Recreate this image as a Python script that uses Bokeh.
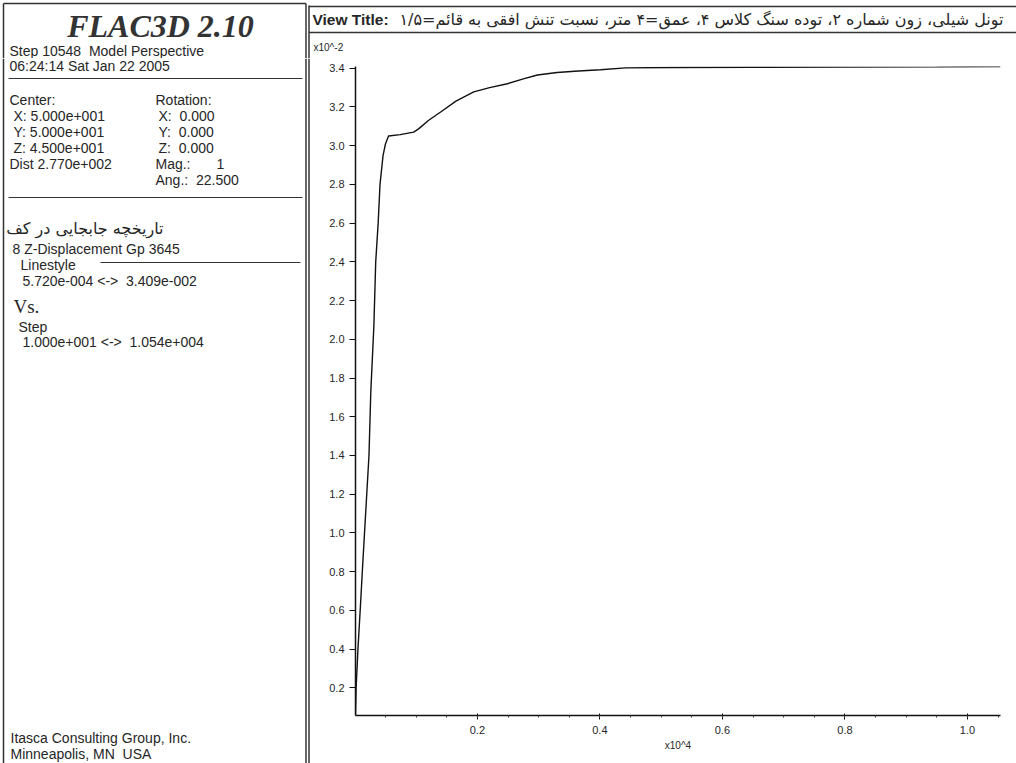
from bokeh.plotting import figure
from bokeh.layouts import row, column
from bokeh.models import FixedTicker, NumeralTickFormatter, Range1d
from bokeh.core.properties import value
from bokeh.embed import file_html
from bokeh.resources import INLINE

# ---- data (Step in units of 10^4, Z-displacement in units of 10^-2) ----
step_e4 = [0.001, 0.002, 0.005, 0.009, 0.013, 0.017, 0.023, 0.026, 0.031, 0.034,
           0.038, 0.041, 0.046, 0.050, 0.055, 0.074, 0.096, 0.104, 0.120, 0.140,
           0.165, 0.194, 0.220, 0.249, 0.275, 0.298, 0.330, 0.365, 0.401, 0.442,
           0.520, 0.650, 0.800, 0.950, 1.054]
zdisp_e2 = [0.057, 0.20, 0.40, 0.62, 0.85, 1.07, 1.40, 1.73, 2.07, 2.40,
            2.60, 2.80, 2.95, 3.01, 3.05, 3.057, 3.07, 3.087, 3.13, 3.174,
            3.23, 3.278, 3.30, 3.32, 3.345, 3.365, 3.378, 3.386, 3.392, 3.402,
            3.404, 3.405, 3.406, 3.407, 3.409]
x_ticks = [0.2, 0.4, 0.6, 0.8, 1.0]
y_ticks = [0.2, 0.4, 0.6, 0.8, 1.0, 1.2, 1.4, 1.6, 1.8, 2.0, 2.2, 2.4, 2.6, 2.8, 3.0, 3.2, 3.4]
x_limits = [0.001, 1.054]
y_limits = [0.0572, 3.409]

view_title = "تونل شیلی، زون شماره ۲، توده سنگ کلاس ۴، عمق=۴ متر، نسبت تنش افقی به قائم=۱/۵"
history_title = "تاریخچه جابجایی در کف"

NB = "\u00a0"
SANS = value("Liberation Sans")
TXT = "#262626"
LINE = "#333333"
STRIP_H = 58


def canvas(width, height, y0, y1, x0=0):
    f = figure(width=width, height=height, x_range=Range1d(x0, x0 + width),
               y_range=Range1d(y1, y0), x_axis_type=None, y_axis_type=None,
               min_border=0, output_backend="svg", toolbar_location=None)
    f.grid.visible = False
    f.outline_line_color = None
    return f


# ---------------- top strip (full width) ----------------
st = canvas(1016, STRIP_H, 0, STRIP_H)
st.segment(x0=[3, 3, 305.5, 308.5, 308.5, 308.5], y0=[3, 3, 3, 5, 6, 32],
           x1=[3, 305.5, 305.5, 308.5, 1016, 1016], y1=[STRIP_H, 3, STRIP_H, STRIP_H, 6, 32],
           line_color=LINE, line_width=1.5)
st.text(x=[160], y=[25], text=["FLAC3D 2.10"], text_font=value("Liberation Serif"),
        text_font_style="bold italic", text_font_size="32px", text_align="center",
        text_baseline="middle", text_color="#333333")
st.text(x=[9], y=[50], text=["Step 10548" + NB + NB + "Model Perspective"], text_font=SANS,
        text_font_size="14px", text_baseline="middle", text_color=TXT)
st.text(x=[312], y=[19], text=["View Title:"], text_font=SANS, text_font_style="bold",
        text_font_size="15.5px", text_baseline="middle", text_color=TXT)
st.text(x=[1003], y=[19], text=[view_title], text_font=value("DejaVu Sans"),
        text_font_size="16px", text_align="right", text_baseline="middle", text_color=TXT)
st.text(x=[313], y=[47], text=["x10^-2"], text_font=SANS, text_font_size="10px",
        text_baseline="middle", text_color=TXT)

# ---------------- left info panel body ----------------
lf = canvas(310, 763 - STRIP_H, STRIP_H, 763)
lf.segment(x0=[3, 305.5, 308.5, 8, 8, 100], y0=[STRIP_H, STRIP_H, STRIP_H, 78, 197, 262],
           x1=[3, 305.5, 308.5, 302, 302, 300], y1=[763, 763, 763, 78, 197, 262],
           line_color=LINE, line_width=[1.5, 1.5, 1.5, 1, 1, 1])

lines_left = [
    ("06:24:14 Sat Jan 22 2005", 9, 65),
    ("Center:", 9, 99), ("Rotation:", 155, 99),
    ("X: 5.000e+001", 13, 115), ("X:" + NB + NB + "0.000", 158, 115),
    ("Y: 5.000e+001", 13, 131), ("Y:" + NB + NB + "0.000", 158, 131),
    ("Z: 4.500e+001", 13, 147), ("Z:" + NB + NB + "0.000", 158, 147),
    ("Dist 2.770e+002", 9, 163), ("Mag.:", 155, 163), ("1", 216, 163),
    ("Ang.:" + NB + NB + "22.500", 155, 179),
    ("8 Z-Displacement Gp 3645", 12, 248),
    ("Linestyle", 20, 264),
    ("5.720e-004 <->" + NB + NB + "3.409e-002", 22, 280),
    ("Step", 18, 326),
    ("1.000e+001 <->" + NB + NB + "1.054e+004", 22, 341),
    ("Itasca Consulting Group, Inc.", 10, 737),
    ("Minneapolis, MN" + NB + NB + "USA", 10, 753),
]
lf.text(x=[t[1] for t in lines_left], y=[t[2] for t in lines_left],
        text=[t[0] for t in lines_left], text_font=SANS, text_font_size="14px",
        text_baseline="middle", text_color=TXT)
lf.text(x=[163], y=[228], text=[history_title], text_font=value("DejaVu Sans"),
        text_font_size="16px", text_align="right", text_baseline="middle", text_color=TXT)
lf.text(x=[13], y=[306], text=["Vs."], text_font=value("Liberation Serif"),
        text_font_size="19px", text_baseline="middle", text_color=TXT)

# ---------------- chart ----------------
p = figure(width=706, height=763 - STRIP_H, x_range=Range1d(*x_limits), y_range=Range1d(*y_limits),
           min_border_left=45, min_border_right=16, min_border_top=66 - STRIP_H, min_border_bottom=48,
           output_backend="svg", toolbar_location=None)
p.grid.visible = False
p.outline_line_color = None
p.line(step_e4, zdisp_e2, line_color="#111111", line_width=1.4)

for ax in (p.xaxis[0], p.yaxis[0]):
    ax.axis_line_color = "#111111"
    ax.axis_line_width = 1.5
    ax.major_tick_line_color = "#111111"
    ax.minor_tick_line_color = "#333333"
    ax.major_label_text_font = "Liberation Sans"
    ax.major_label_text_font_size = "11px"
    ax.major_label_text_color = TXT
    ax.formatter = NumeralTickFormatter(format="0.0")

p.xaxis.ticker = FixedTicker(ticks=x_ticks, minor_ticks=[0.05 * i for i in range(1, 22)])
p.yaxis.ticker = FixedTicker(ticks=y_ticks)
p.xaxis.major_tick_out = 4
p.xaxis.major_tick_in = 2
p.xaxis.minor_tick_out = 2
p.xaxis.minor_tick_in = 0
p.xaxis.major_label_standoff = 6
p.yaxis.major_tick_out = 6
p.yaxis.major_tick_in = 0
p.yaxis.minor_tick_out = 0
p.yaxis.minor_tick_in = 0
p.yaxis.major_label_standoff = 5
p.xaxis.axis_label = "x10^4"
p.xaxis.axis_label_text_font = "Liberation Sans"
p.xaxis.axis_label_text_font_style = "normal"
p.xaxis.axis_label_text_font_size = "10px"
p.xaxis.axis_label_text_color = TXT
p.xaxis.axis_label_standoff = 3

# wrap p so that its frame is not aligned with the left canvas
layout = column(st, row(lf, column(p, spacing=0), spacing=0), spacing=0)
open("out.html", "w").write(file_html(layout, INLINE))
